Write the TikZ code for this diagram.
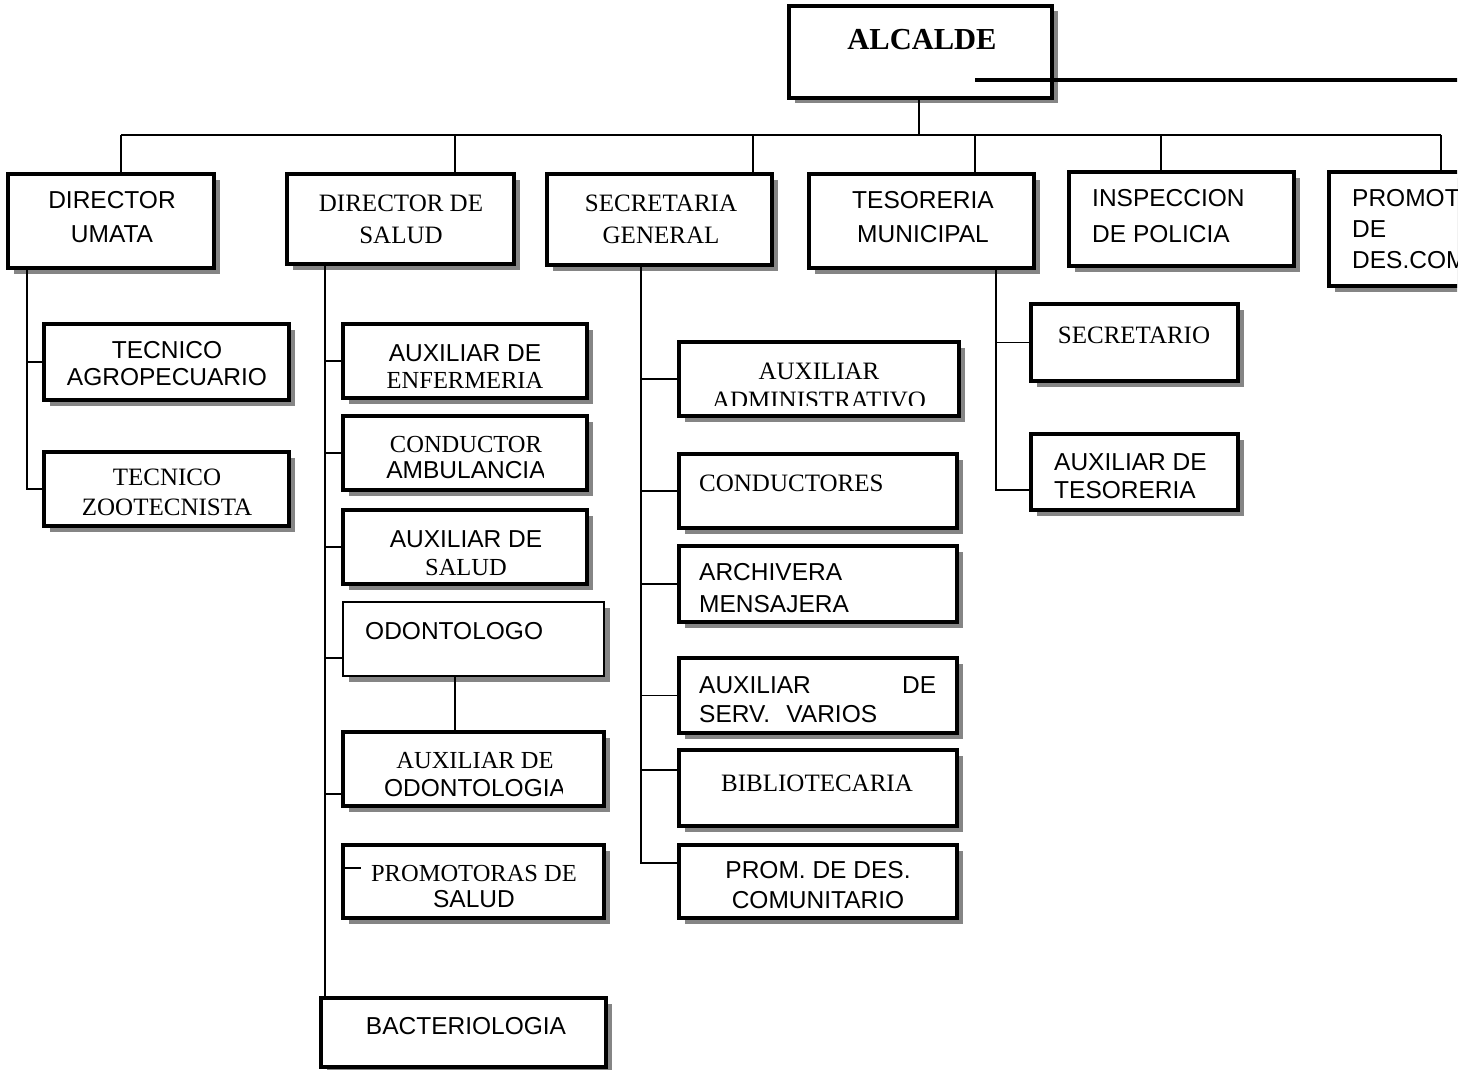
\documentclass[tikz,border=0pt]{standalone}
\usepackage{fontspec}
\setmainfont{Liberation Serif}
\setsansfont{Liberation Sans}
\usetikzlibrary{shadows,fit,calc}
\newcommand\sfx[1]{\fontsize{24.5}{#1}\selectfont\sffamily}
\newcommand\rmx[1]{\fontsize{25}{#1}\selectfont\rmfamily}
\begin{document}
\begin{tikzpicture}[x=1pt,y=-1pt,
  box/.style={draw, line width=3.4pt, fill=white, inner sep=0pt,
    drop shadow={shadow xshift=5.5pt, shadow yshift=-5.5pt, fill=black!48, opacity=1}},
  thinbox/.style={draw, line width=1.4pt, fill=white, inner sep=0pt,
    drop shadow={shadow xshift=5.5pt, shadow yshift=-5.5pt, fill=black!48, opacity=1}},
  conn/.style={line width=1.4pt},
  thick conn/.style={line width=3.4pt},
  txt/.style={inner sep=0pt, align=center},
  ltxt/.style={inner sep=0pt, align=left, anchor=west}]
\useasboundingbox (0,0) rectangle (1472,1070);
\clip (0,0) rectangle (1457,1070);

% ---------- boxes ----------
\node[box, fit={(789,6) (1052,98)}] (alc) {};
\node[box, fit={(8,174) (214,268)}] (umata) {};
\node[box, fit={(287,174) (514,264)}] (dsalud) {};
\node[box, fit={(547,174) (772,265)}] (secg) {};
\node[box, fit={(809,174) (1034,268)}] (tes) {};
\node[box, fit={(1069,172) (1294,266)}] (insp) {};
\node[box, fit={(1329,172) (1520,286)}] (prom) {};

\node[box, fit={(44,324) (289,400)}] (tagro) {};
\node[box, fit={(44,452) (289,526)}] (tzoo) {};

\node[box, fit={(343,324) (587,398)}] (enf) {};
\node[box, fit={(343,416) (587,490)}] (cond) {};
\node[box, fit={(343,510) (587,584)}] (auxs) {};
\node[thinbox, fit={(343,602) (604,676)}] (odo) {};
\node[box, fit={(343,732) (604,806)}] (auxodo) {};
\node[box, fit={(343,845) (604,918)}] (promsal) {};
\node[box, fit={(321,998) (606,1067)}] (bact) {};

\node[box, fit={(679,342) (959,416)}] (adm) {};
\node[box, fit={(679,454) (957,528)}] (condu) {};
\node[box, fit={(679,546) (957,622)}] (arch) {};
\node[box, fit={(679,658) (957,733)}] (serv) {};
\node[box, fit={(679,750) (957,826)}] (bib) {};
\node[box, fit={(679,845) (957,918)}] (pdc) {};

\node[box, fit={(1031,304) (1238,381)}] (secr) {};
\node[box, fit={(1031,434) (1238,510)}] (auxt) {};

% ---------- texts ----------
\node[txt, font={\fontsize{30.5}{34}\selectfont\rmfamily\bfseries}] (talc) at (922,40) {ALCALDE};
\node[txt, font={\sfx{34}}] (tumata) at (112,217) {DIRECTOR\\UMATA};
\node[txt, font={\rmx{32}}] (tdsalud) at (401,219) {DIRECTOR DE\\SALUD};
\node[txt, font={\rmx{32}}] (tsecg) at (661,219) {SECRETARIA\\GENERAL};
\node[txt, font={\sfx{34}}] (ttes) at (923,217) {TESORERIA\\MUNICIPAL};
\node[ltxt, font={\sfx{36}}] (tinsp) at (1092,216) {INSPECCION\\DE POLICIA};
\node[ltxt, font={\sfx{31}}] (tprom) at (1352,229) {PROMOT\\DE\\DES.COM};

\node[txt, font={\sfx{27}}] (ttagro) at (167,363.5) {TECNICO\\AGROPECUARIO};
\node[txt, font={\rmx{30}}] (ttzoo) at (167,492) {TECNICO\\ZOOTECNISTA};

\node[txt, font={\sfx{27}}] (tenf) at (465,366.5) {\textsf{AUXILIAR DE}\\\textrm{ENFERMERIA}};
\begin{scope}
  \clip (343,416) rectangle (543,490);
  \node[txt, font={\sfx{26}}] (tcond) at (466,458) {\textrm{CONDUCTOR}\\\textsf{AMBULANCIA}};
\end{scope}
\node[txt, font={\sfx{28}}] (tauxs) at (466,553) {\textsf{AUXILIAR DE}\\\textrm{SALUD}};
\node[ltxt, font={\sfx{28}}] (todo) at (365,631) {ODONTOLOGO};
\begin{scope}
  \clip (343,732) rectangle (562,806);
  \node[txt, font={\sfx{28}}] (tauxodo) at (475,775) {\textrm{AUXILIAR DE}\\\textsf{ODONTOLOGIA}};
\end{scope}
\node[txt, font={\sfx{26}}] (tpromsal) at (474,886) {\textrm{PROMOTORAS DE}\\\textsf{SALUD}};
\node[txt, font={\sfx{28}}] (tbact) at (466,1026) {BACTERIOLOGIA};

\begin{scope}
  \clip (679,342) rectangle (959,405);
  \node[txt, font={\rmx{29}}] (tadm) at (819,385.5) {AUXILIAR\\ADMINISTRATIVO};
\end{scope}
\node[ltxt, font={\rmx{28}}] (tcondu) at (699,483) {CONDUCTORES};
\node[ltxt, font={\sfx{32}}] (tarch) at (699,588) {ARCHIVERA\\MENSAJERA};
\node[ltxt, font={\sfx{29}}, text width=237pt] (tserv) at (699,699.5) {AUXILIAR\hfill DE\\SERV.\ \ VARIOS};
\node[txt, font={\rmx{28}}] (tbib) at (817,783) {BIBLIOTECARIA};
\node[txt, font={\sfx{30}}] (tpdc) at (818,885) {PROM. DE DES.\\COMUNITARIO};

\node[txt, font={\rmx{28}}] (tsecr) at (1134,335) {SECRETARIO};
\node[ltxt, font={\sfx{28}}] (tauxt) at (1054,476) {AUXILIAR DE\\TESORERIA};

% ---------- connectors ----------
% thick line from ALCALDE to the right edge
\coordinate (alcR) at (975,80);
\coordinate (edgeR) at (1470,80);
\draw[thick conn] (alcR) -- (edgeR);

% top bus
\coordinate (alcB) at (919,135);
\coordinate (b1) at (121,135);
\coordinate (b2) at (455,135);
\coordinate (b3) at (753,135);
\coordinate (b4) at (975,135);
\coordinate (b5) at (1161,135);
\coordinate (b6) at (1441,135);
\draw[conn] (alc.south -| alcB) -- (alcB);
\draw[conn] (b1) -- (b6);
\draw[conn] (b1) -- (b1 |- umata.north);
\draw[conn] (b2) -- (b2 |- dsalud.north);
\draw[conn] (b3) -- (b3 |- secg.north);
\draw[conn] (b4) -- (b4 |- tes.north);
\draw[conn] (b5) -- (b5 |- insp.north);
\draw[conn] (b6) -- (b6 |- prom.north);

% UMATA
\coordinate (u0) at (27,268);
\draw[conn] (u0) -- (u0 |- tzoo.west) -- (tzoo.west);
\draw[conn] (u0 |- tagro.west) -- (tagro.west);

% SALUD
\coordinate (s0) at (325,264);
\coordinate (so) at (325,658);
\coordinate (sao) at (325,794);
\draw[conn] (s0) -- (s0 |- bact.north);
\draw[conn] (s0 |- enf.west) -- (enf.west);
\draw[conn] (s0 |- cond.west) -- (cond.west);
\draw[conn] (s0 |- auxs.west) -- (auxs.west);
\draw[conn] (so) -- (so -| odo.west);
\draw[conn] (sao) -- (sao -| auxodo.west);
\coordinate (oc) at (455,676);
\draw[conn] (oc) -- (oc |- auxodo.north);
\coordinate (pt) at (343,868);
\coordinate (ptend) at (361,868);
\draw[conn] (pt) -- (ptend);

% SECRETARIA
\coordinate (g0) at (641,265);
\coordinate (gb) at (641,770);
\coordinate (gp) at (641,863);
\draw[conn] (g0) -- (gp) -- (gp -| pdc.west);
\draw[conn] (g0 |- adm.west) -- (adm.west);
\draw[conn] (g0 |- condu.west) -- (condu.west);
\draw[conn] (g0 |- arch.west) -- (arch.west);
\draw[conn] (g0 |- serv.west) -- (serv.west);
\draw[conn] (gb) -- (gb -| bib.west);

% TESORERIA
\coordinate (t0) at (996,268);
\coordinate (ta) at (996,490);
\draw[conn] (t0) -- (ta) -- (ta -| auxt.west);
\draw[conn] (t0 |- secr.west) -- (secr.west);
\end{tikzpicture}
\end{document}
